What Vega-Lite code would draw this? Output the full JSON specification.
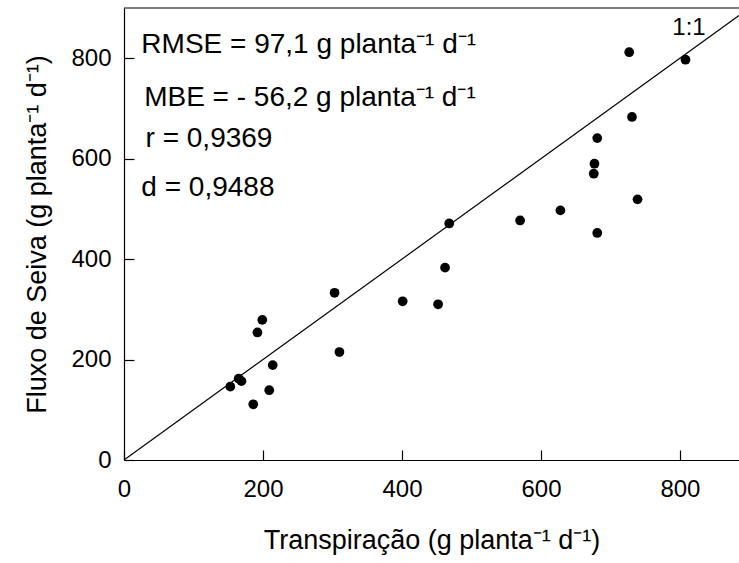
{
  "$schema": "https://vega.github.io/schema/vega-lite/v6.json",
  "width": 615,
  "height": 452,
  "autosize": {"type": "none"},
  "padding": {"left": 124, "top": 8, "right": 0, "bottom": 103},
  "background": "white",
  "config": {
    "view": {"stroke": null},
    "font": "Liberation Sans",
    "axis": {
      "grid": false,
      "domainColor": "#000",
      "domainWidth": 1.2,
      "tickColor": "#000",
      "tickWidth": 1.2,
      "tickSize": -10,
      "labelFontSize": 24,
      "labelColor": "#000",
      "labelFont": "Liberation Sans",
      "labelFlush": false,
      "titleFontSize": 27,
      "titleColor": "#000",
      "titleFontWeight": "normal",
      "titleFont": "Liberation Sans"
    }
  },
  "datasets": {
    "pts": [
      {"transp": 153, "fluxo": 146},
      {"transp": 165, "fluxo": 162},
      {"transp": 169, "fluxo": 157},
      {"transp": 186, "fluxo": 111},
      {"transp": 209, "fluxo": 139},
      {"transp": 214, "fluxo": 189},
      {"transp": 192, "fluxo": 254},
      {"transp": 199, "fluxo": 279},
      {"transp": 303, "fluxo": 333},
      {"transp": 310, "fluxo": 215},
      {"transp": 401, "fluxo": 316},
      {"transp": 452, "fluxo": 310},
      {"transp": 462, "fluxo": 383},
      {"transp": 468, "fluxo": 471},
      {"transp": 570, "fluxo": 477},
      {"transp": 628, "fluxo": 497},
      {"transp": 681, "fluxo": 452},
      {"transp": 739, "fluxo": 519},
      {"transp": 676, "fluxo": 570},
      {"transp": 677, "fluxo": 590},
      {"transp": 681, "fluxo": 641},
      {"transp": 731, "fluxo": 683},
      {"transp": 727, "fluxo": 812},
      {"transp": 808, "fluxo": 797}
    ],
    "line11": [
      {"transp": 0, "fluxo": 0},
      {"transp": 885, "fluxo": 885}
    ],
    "notes": [
      {"transp": 25, "fluxo": 811, "label": "RMSE = 97,1 g planta⁻¹ d⁻¹"},
      {"transp": 29, "fluxo": 705, "label": "MBE = - 56,2 g planta⁻¹ d⁻¹"},
      {"transp": 31, "fluxo": 624, "label": "r = 0,9369"},
      {"transp": 25, "fluxo": 525, "label": "d = 0,9488"}
    ],
    "label11": [
      {"transp": 789, "fluxo": 847, "label": "1:1"}
    ],
    "top": [{"fluxo": 900}]
  },
  "encoding": {
    "x": {
      "field": "transp",
      "type": "quantitative",
      "scale": {"domain": [0, 885], "nice": false},
      "axis": {"values": [0, 200, 400, 600, 800], "title": "Transpiração (g planta⁻¹ d⁻¹)", "labelPadding": 27, "titlePadding": 26}
    },
    "y": {
      "field": "fluxo",
      "type": "quantitative",
      "scale": {"domain": [0, 900], "nice": false},
      "axis": {"values": [0, 200, 400, 600, 800], "title": "Fluxo de Seiva (g planta⁻¹ d⁻¹)", "labelPadding": 23, "titlePadding": 19}
    }
  },
  "layer": [
    {
      "data": {"name": "line11"},
      "mark": {"type": "line", "color": "#000", "strokeWidth": 1.2, "clip": true}
    },
    {
      "data": {"name": "top"},
      "mark": {"type": "rule", "color": "#000", "strokeWidth": 1.2},
      "encoding": {"x": null}
    },
    {
      "data": {"name": "pts"},
      "mark": {"type": "point", "shape": "circle", "filled": true, "color": "#000", "size": 95, "opacity": 1}
    },
    {
      "data": {"name": "notes"},
      "mark": {"type": "text", "align": "left", "baseline": "alphabetic", "fontSize": 28, "color": "#000", "font": "Liberation Sans"},
      "encoding": {"text": {"field": "label"}}
    },
    {
      "data": {"name": "label11"},
      "mark": {"type": "text", "align": "left", "baseline": "alphabetic", "fontSize": 24, "color": "#000", "font": "Liberation Sans"},
      "encoding": {"text": {"field": "label"}}
    }
  ]
}
